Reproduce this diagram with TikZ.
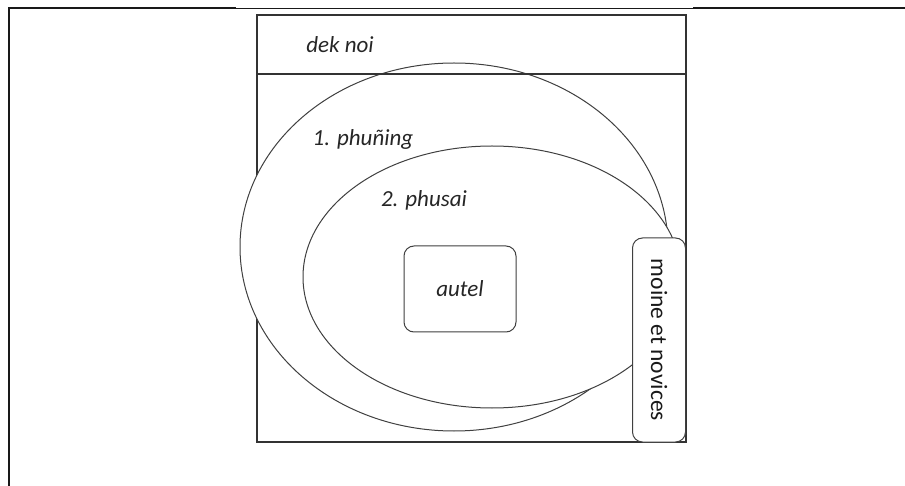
\documentclass[tikz,border=0pt]{standalone}
\usepackage{fontspec}
\setmainfont{Carlito}
\usetikzlibrary{shapes.geometric}
\begin{document}
\begin{tikzpicture}[x=1pt,y=-1pt,
  lbl/.style={font=\fontsize{23}{26}\selectfont\itshape, text=black!85, inner sep=0pt},
  oval/.style={ellipse, draw=black!75, line width=1pt, fill=white, inner sep=0pt},
  rbox/.style={draw=black!75, line width=1pt, rounded corners=10pt, fill=white, inner sep=0pt},
  frame/.style={draw=black!80, line width=1.3pt}]
\useasboundingbox (0,0) rectangle (905,486);
% page frame lines
\coordinate (fbl) at (9,486);
\coordinate (ftl) at (9,8);
\coordinate (fa) at (236,8);
\coordinate (fb) at (693,8);
\coordinate (ftr) at (905,8);
\draw[line width=2.2pt, black!90] (fbl) -- (ftl) -- (fa);
\draw[line width=0.8pt, black!90] (fa) -- (fb);
\draw[line width=2.2pt, black!90] (fb) -- (ftr);
% square
\coordinate (sqtl) at (257,15);
\coordinate (sqbr) at (686,442);
\draw[frame] (sqtl) rectangle (sqbr);
% ellipses
\node[oval, minimum width=428pt, minimum height=368pt] (outer) at (454,247) {};
\node[oval, minimum width=378pt, minimum height=262pt] (inner) at (492,277) {};
% dek noi band
\coordinate (dl) at (257,74);
\coordinate (dr) at (686,74);
\draw[frame] (dl) -- (dr);
% boxes
\node[rbox, minimum width=112pt, minimum height=86pt] (autel) at (460,289) {};
\node[lbl] (auteltxt) at (autel.center) {autel};
\node[rbox, minimum width=53pt, minimum height=204pt] (moine) at (659,340) {};
\node[font=\fontsize{23.5}{26}\selectfont, text=black!90, rotate=-90, inner sep=0pt] (moinetxt) at (moine.center) {moine et novices};
% labels
\node[lbl] (deknoi) at (340,45) {dek noi};
\node[lbl] (phuning) at (363,139) {1. phuñing};
\node[lbl] (phusai) at (424,200) {2. phusai};
\end{tikzpicture}
\end{document}
